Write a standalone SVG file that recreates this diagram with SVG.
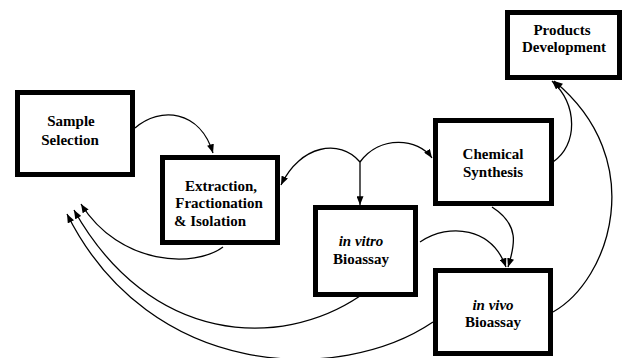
<svg xmlns="http://www.w3.org/2000/svg" width="627" height="358" viewBox="0 0 627 358">
<style>
.box{fill:#fff;stroke:#000;stroke-width:5}
text{font-family:'Liberation Serif','Times New Roman','DejaVu Serif',serif;font-size:15px;font-weight:bold;fill:#000;text-anchor:middle}
.it{font-style:italic}
.edge{fill:none;stroke:#000;stroke-width:1.3}
</style>
<defs>
<marker id="ah" viewBox="0 0 10 8" refX="10" refY="4" markerWidth="9" markerHeight="7" markerUnits="userSpaceOnUse" orient="auto">
<path d="M0,0 L10,4 L0,8 Z" fill="#000"/>
</marker>
</defs>
<rect width="627" height="358" fill="#fff"/>
<g id="connectors">
<path class="edge" d="M135,128 C160,106 200,110 213,153" marker-end="url(#ah)"/>
<path class="edge" d="M360,162 C340,138 300,145 281,185" marker-end="url(#ah)"/>
<path class="edge" d="M360,162 C380,135 418,138 432,158" marker-end="url(#ah)"/>
<path class="edge" d="M360,162 L360,205" marker-end="url(#ah)"/>
<path class="edge" d="M223,247 C195,268 120,266 81,204" marker-end="url(#ah)"/>
<path class="edge" d="M360,296 C280,350 150,345 74,210" marker-end="url(#ah)"/>
<path class="edge" d="M433,322 C340,385 150,380 67,214" marker-end="url(#ah)"/>
<path class="edge" d="M420,242 C450,222 492,228 506,267" marker-end="url(#ah)"/>
<path class="edge" d="M492,207 C520,225 515,245 508,267" marker-end="url(#ah)"/>
<path class="edge" d="M553,162 C578,145 578,105 552,81" marker-end="url(#ah)"/>
<path class="edge" d="M553,312 C610,280 650,160 554,81" marker-end="url(#ah)"/>
</g>
<g id="sample-selection">
<rect class="box" x="17.5" y="92.5" width="115" height="82"/>
<text x="71" y="126" font-family="Liberation Serif, serif">Sample</text>
<text x="70" y="145" font-family="Liberation Serif, serif">Selection</text>
</g>
<g id="extraction">
<rect class="box" x="162.5" y="157.5" width="115" height="85"/>
<text x="221" y="191" font-family="Liberation Serif, serif">Extraction,</text>
<text x="219" y="208" font-family="Liberation Serif, serif">Fractionation</text>
<text x="210" y="226" font-family="Liberation Serif, serif">&amp; Isolation</text>
</g>
<g id="products-development">
<rect class="box" x="507.5" y="12.5" width="112" height="65"/>
<text x="562" y="35" font-family="Liberation Serif, serif">Products</text>
<text x="564" y="52" font-family="Liberation Serif, serif">Development</text>
</g>
<g id="chemical-synthesis">
<rect class="box" x="435.5" y="120.5" width="116" height="83"/>
<text x="493" y="159" font-family="Liberation Serif, serif">Chemical</text>
<text x="493" y="177" font-family="Liberation Serif, serif">Synthesis</text>
</g>
<g id="in-vitro-bioassay">
<rect class="box" x="315.5" y="207.5" width="100" height="87"/>
<text class="it" x="361" y="246" font-family="Liberation Serif, serif">in vitro</text>
<text x="361" y="264" font-family="Liberation Serif, serif">Bioassay</text>
</g>
<g id="in-vivo-bioassay">
<rect class="box" x="435.5" y="270.5" width="115" height="83"/>
<text class="it" x="493" y="310" font-family="Liberation Serif, serif">in vivo</text>
<text x="493" y="327" font-family="Liberation Serif, serif">Bioassay</text>
</g>
</svg>
